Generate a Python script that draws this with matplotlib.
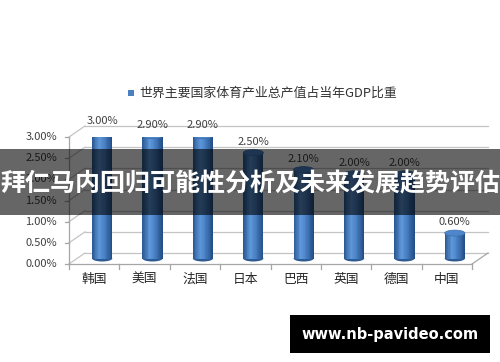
import matplotlib
matplotlib.use('Agg')
import matplotlib.pyplot as plt
from matplotlib.patches import Ellipse, Rectangle
import matplotlib.transforms as mtransforms
from matplotlib.colors import LinearSegmentedColormap
import numpy as np

plt.rcParams['font.family'] = ['Noto Sans CJK SC', 'DejaVu Sans']

categories = ['韩国', '美国', '法国', '日本', '巴西', '英国', '德国', '中国']
values = [3.00, 2.90, 2.90, 2.50, 2.10, 2.00, 2.00, 0.60]
value_labels = ['3.00%', '2.90%', '2.90%', '2.50%', '2.10%', '2.00%', '2.00%', '0.60%']
y_ticks = [0.0, 0.5, 1.0, 1.5, 2.0, 2.5, 3.0]
y_tick_labels = ['0.00%', '0.50%', '1.00%', '1.50%', '2.00%', '2.50%', '3.00%']
legend_label = '世界主要国家体育产业总产值占当年GDP比重'
banner_text = '拜仁马内回归可能性分析及未来发展趋势评估'
watermark = 'www.nb-pavideo.com'

W, H = 500, 362
fig = plt.figure(figsize=(W / 100, H / 100), dpi=100)
fig.patch.set_facecolor('white')

# front plane of the pseudo-3D box, in pixels
x0, x1, yb, yt = 69, 472, 264, 137
ax = fig.add_axes([x0 / W, 1 - yb / H, (x1 - x0) / W, (yb - yt) / H])
ax.set_xlim(0, len(categories))
ax.set_ylim(0, 3.0)
ax.axis('off')

DX, DY = 16, 11
back = ax.transData + mtransforms.Affine2D().translate(DX, DY)
mid = ax.transData + mtransforms.Affine2D().translate(DX / 2, DY / 2)
ident = mtransforms.IdentityTransform()

grid_c = '#c4c4c4'
axis_c = '#a6a6a6'
n = len(categories)

# back wall gridlines
for y, lab in zip(y_ticks, y_tick_labels):
    ax.plot([0, n], [y, y], transform=back, color=grid_c, lw=0.9, clip_on=False, zorder=1)
    p = ax.transData.transform((0, y))
    ax.plot([p[0], p[0] + DX], [p[1], p[1] + DY], transform=ident, color=grid_c, lw=0.9,
            clip_on=False, zorder=1)
    ax.plot([p[0] - 4, p[0]], [p[1], p[1]], transform=ident, color=axis_c, lw=0.9, clip_on=False)
    ax.text(p[0] - 12, p[1], lab, transform=ident, ha='right',
            va='center', fontsize=8, color='#404040')

# left axis (front)
ax.plot([0, 0], [0, 3.0], color=axis_c, lw=0.9, clip_on=False, zorder=1)
# floor front edge and right edge
ax.plot([0, n], [0, 0], color=axis_c, lw=0.9, clip_on=False, zorder=1)
pr = ax.transData.transform((n, 0))
ax.plot([pr[0], pr[0] + DX], [pr[1], pr[1] + DY], transform=ident, color=axis_c, lw=0.9,
        clip_on=False, zorder=1)
for i in range(n + 1):
    p = ax.transData.transform((i, 0))
    ax.plot([p[0], p[0]], [p[1], p[1] - 5], transform=ident, color=axis_c, lw=0.9, clip_on=False)

for i, c in enumerate(categories):
    ax.text(i + 0.5, 0, c, transform=ax.transData + mtransforms.Affine2D().translate(0, -15),
            ha='center', va='center', fontsize=9.2, color='#262626')

# cylinders
cmap = LinearSegmentedColormap.from_list('cyl', [(0, '#2b5a94'), (0.35, '#5f98da'),
                                                 (0.6, '#4a82c6'), (1, '#244f86')])
bw = 0.4
ns = 24
sw = bw / ns
px_y = 3.0 / (yb - yt)
eh = 6 * px_y
for i, v in enumerate(values):
    cx = i + 0.5
    ax.add_patch(Ellipse((cx, 0), bw, eh, transform=mid, facecolor='#2d5b93',
                         edgecolor='none', zorder=3))
    xs = cx - bw / 2 + sw * (np.arange(ns) + 0.5)
    cols = [cmap(t) for t in np.linspace(0, 1, ns)]
    ax.bar(xs, [v] * ns, width=sw * 1.05, color=cols, edgecolor='none', transform=mid,
           zorder=4)
    ax.add_patch(Ellipse((cx, v), bw, eh, transform=mid, facecolor='#4d86ca',
                         edgecolor='#3b6fae', lw=0.5, zorder=5))
    ax.text(cx, v, value_labels[i], transform=mid + mtransforms.Affine2D().translate(0, 11),
            ha='center', va='center', fontsize=8, color='#404040', zorder=6)

ax.set_xlim(0, n)
ax.set_ylim(0, 3.0)

# legend
fig.add_artist(Rectangle((128 / W, 1 - 96 / H), 6 / W, 6 / H, transform=fig.transFigure,
                         facecolor='#4a7fc0', edgecolor='none'))
fig.text(139 / W, 1 - 93 / H, legend_label, ha='left', va='center', fontsize=9.3, color='#333333')

# banner overlay
fig.add_artist(Rectangle((0, 1 - 215 / H), 1, 66 / H, transform=fig.transFigure,
                         facecolor='black', alpha=0.6, edgecolor='none', zorder=10))
fig.text(0.5, 1 - 184.5 / H, banner_text, ha='center', va='center', fontsize=18,
         fontweight='bold', color='white', zorder=11)

# watermark box
fig.add_artist(Rectangle((290 / W, 1 - 353 / H), 200 / W, 38 / H, transform=fig.transFigure,
                         facecolor='black', edgecolor='none', zorder=10))
fig.text(390 / W, 1 - 335 / H, watermark, ha='center', va='center', fontsize=10.5,
         fontweight='bold', color='white', family=['DejaVu Sans'], zorder=11)

fig.savefig('out.png', dpi=100)
